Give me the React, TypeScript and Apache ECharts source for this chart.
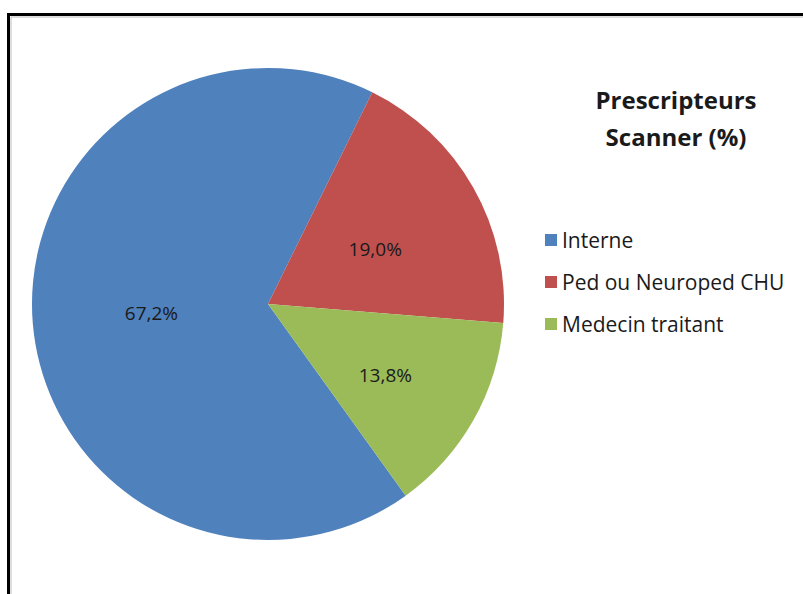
import React, { useEffect, useRef } from "react";
import * as echarts from "echarts";

const categories = ["Interne", "Ped ou Neuroped CHU", "Medecin traitant"];
const values = [67.2, 19.0, 13.8];
const colors = ["#4F81BD", "#C0504D", "#9BBB59"];
const titleLines = ["Prescripteurs", "Scanner (%)"];
const labelOffsets = [[4, -1], [2, 5], [12, 11]];

export default function App() {
  const ref = useRef<HTMLDivElement>(null);
  useEffect(() => {
    if (!ref.current) return;
    const chart = echarts.init(ref.current, undefined, { renderer: "svg" });
    chart.setOption({
      animation: false,
      backgroundColor: "#ffffff",
      graphic: [
        {
          type: "rect",
          shape: { x: 8.5, y: 14.5, width: 820, height: 620 },
          style: { fill: "none", stroke: "#000000", lineWidth: 3 },
          z: 10,
        },
        {
          type: "rect",
          shape: { x: 11, y: 17, width: 820, height: 620 },
          style: { fill: "none", stroke: "#bbbbbb", lineWidth: 1 },
          z: 10,
        },
        {
          type: "text",
          x: 676,
          y: 118,
          style: {
            text: titleLines.join("\n"),
            fontFamily: "Open Sans",
            fontWeight: "bold",
            fontSize: 24,
            lineHeight: 37,
            fill: "#1a1a1a",
            align: "center",
            verticalAlign: "middle",
          },
        },
      ],
      legend: {
        orient: "vertical",
        left: 540,
        top: 224,
        itemWidth: 12,
        itemHeight: 12,
        itemGap: 20,
        icon: "rect",
        textStyle: {
          fontFamily: "Open Sans",
          fontSize: 21,
          lineHeight: 22,
          color: "#1a1a1a",
          padding: [0, 0, 0, 0],
        },
        data: categories,
      },
      series: [
        {
          type: "pie",
          center: [268, 304],
          radius: 236,
          startAngle: -54.3,
          clockwise: true,
          label: {
            show: true,
            position: "inside",
            formatter: (p: any) => p.value.toFixed(1).replace(".", ",") + "%",
            fontFamily: "Open Sans",
            fontSize: 19,
            color: "#1a1a1a",
          },
          labelLine: { show: false },
          itemStyle: { borderWidth: 0 },
          emphasis: { disabled: true },
          data: categories.map((c, i) => ({
            name: c,
            value: values[i],
            itemStyle: { color: colors[i] },
            label: { offset: labelOffsets[i] },
          })),
        },
      ],
    });
    return () => chart.dispose();
  }, []);
  return (
    <div
      ref={ref}
      style={{ position: "fixed", left: 0, top: 0, width: 803, height: 594 }}
    />
  );
}
